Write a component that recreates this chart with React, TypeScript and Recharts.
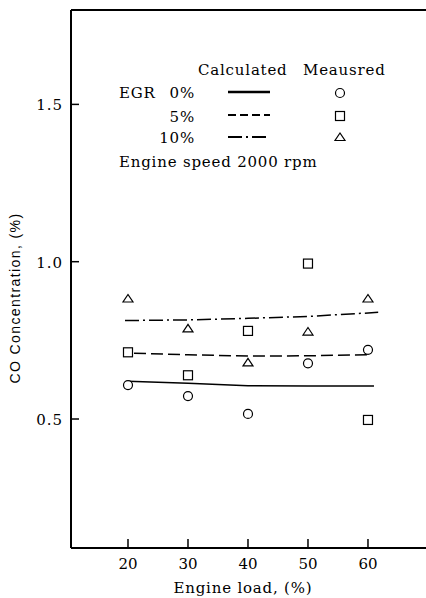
import { ComposedChart, Line, Scatter, XAxis, YAxis, ReferenceLine } from 'recharts';

// measured points (engine load %, CO %)
const loads = [20, 30, 40, 50, 60];
const measured0 = [0.608, 0.573, 0.516, 0.677, 0.72];
const measured5 = [0.712, 0.639, 0.78, 0.994, 0.497];
const measured10 = [0.883, 0.788, 0.68, 0.778, 0.883];

// calculated curves
const calcLoads0 = [20, 30, 40, 50, 61];
const calc0 = [0.62, 0.614, 0.606, 0.605, 0.605];
const calcLoads5 = [21, 30, 40, 50, 60];
const calc5 = [0.709, 0.704, 0.7, 0.701, 0.704];
const calcLoads10 = [19.5, 30, 40, 50, 61.7];
const calc10 = [0.813, 0.815, 0.82, 0.826, 0.839];

const xTicks = [20, 30, 40, 50, 60];
const yTicks = [0.5, 1.0, 1.5];

const toPoints = (xs: number[], ys: number[]) => xs.map((x, i) => ({ x, y: ys[i] }));

const SERIF = '"DejaVu Serif", serif';
const SANS = '"Liberation Sans", "DejaVu Sans", sans-serif';

const CircleMark = (props: any) => (
  <circle cx={props.cx} cy={props.cy} r={4.5} fill="#fff" stroke="#000" strokeWidth={1.2} />
);
const SquareMark = (props: any) => (
  <rect x={props.cx - 4.5} y={props.cy - 4.5} width={9} height={9} fill="#fff" stroke="#000" strokeWidth={1.2} />
);
const TriangleMark = (props: any) => (
  <path
    d={`M${props.cx - 5},${props.cy + 3.5} L${props.cx + 5},${props.cy + 3.5} L${props.cx},${props.cy - 4} Z`}
    fill="#fff"
    stroke="#000"
    strokeWidth={1.2}
  />
);

const XTick = (props: any) => (
  <g>
    <line x1={props.x} y1={props.y} x2={props.x} y2={props.y - 9} stroke="#000" strokeWidth={1.5} />
    <text x={props.x} y={props.y + 21} textAnchor="middle" style={{ fontFamily: SERIF, fontSize: 15 }} fill="#000">
      {props.payload.value}
    </text>
  </g>
);

const YTick = (props: any) => (
  <g>
    <line x1={props.x} y1={props.y} x2={props.x + 8} y2={props.y} stroke="#000" strokeWidth={1.5} />
    <text x={props.x - 8} y={props.y + 6} textAnchor="end" style={{ fontFamily: SERIF, fontSize: 15, letterSpacing: 1 }} fill="#000">
      {Number(props.payload.value).toFixed(1)}
    </text>
  </g>
);

export default function App() {
  return (
    <div style={{ position: 'relative', width: 426, height: 598 }}>
      <style>{`body{margin:0}`}</style>
      <ComposedChart width={426} height={598} margin={{ top: 10, right: 0, bottom: 0, left: 0 }}>
        <XAxis
          type="number"
          dataKey="x"
          domain={[10.5, 69.67]}
          ticks={xTicks}
          allowDataOverflow
          height={50}
          tickSize={0}
          tickMargin={0}
          tickLine={false}
          axisLine={{ stroke: '#000', strokeWidth: 2 }}
          tick={<XTick />}
        />
        <YAxis
          type="number"
          dataKey="y"
          domain={[0.09, 1.8]}
          ticks={yTicks}
          allowDataOverflow
          width={71}
          tickSize={0}
          tickMargin={0}
          tickLine={false}
          axisLine={{ stroke: '#000', strokeWidth: 2 }}
          tick={<YTick />}
        />
        <ReferenceLine y={1.8} stroke="#000" strokeWidth={2} ifOverflow="visible" />
        <Line data={toPoints(calcLoads0, calc0)} dataKey="y" stroke="#000" strokeWidth={1.5} dot={false} isAnimationActive={false} />
        <Line data={toPoints(calcLoads5, calc5)} dataKey="y" stroke="#000" strokeWidth={1.5} strokeDasharray="12 5" dot={false} isAnimationActive={false} />
        <Line data={toPoints(calcLoads10, calc10)} dataKey="y" stroke="#000" strokeWidth={1.5} strokeDasharray="14 4 2 4" dot={false} isAnimationActive={false} />
        <Scatter data={toPoints(loads, measured0)} shape={<CircleMark />} isAnimationActive={false} />
        <Scatter data={toPoints(loads, measured5)} shape={<SquareMark />} isAnimationActive={false} />
        <Scatter data={toPoints(loads, measured10)} shape={<TriangleMark />} isAnimationActive={false} />
      </ComposedChart>

      {/* legend + axis titles */}
      <svg width={426} height={598} style={{ position: 'absolute', left: 0, top: 0, pointerEvents: 'none' }}>
        <g style={{ fontFamily: SERIF, fontSize: 15, letterSpacing: 0.8 }} fill="#000">
          <text x={198} y={75}>Calculated</text>
          <text x={303} y={75}>Meausred</text>
          <text x={119} y={98}>EGR</text>
          <text x={195} y={98} textAnchor="end">0%</text>
          <text x={195} y={122} textAnchor="end">5%</text>
          <text x={195} y={143} textAnchor="end">10%</text>
          <text x={119} y={167}>Engine speed 2000 rpm</text>
          <text x={243} y={593} textAnchor="middle">Engine load, (%)</text>
        </g>
        <line x1={228} y1={92} x2={270} y2={92} stroke="#000" strokeWidth={2.5} />
        <line x1={228} y1={115} x2={270} y2={115} stroke="#000" strokeWidth={2} strokeDasharray="8 4" />
        <line x1={228} y1={137} x2={270} y2={137} stroke="#000" strokeWidth={2} strokeDasharray="14 4 2 4" />
        <CircleMark cx={340} cy={93} />
        <SquareMark cx={340} cy={116} />
        <TriangleMark cx={340} cy={137} />
        <text
          x={0}
          y={0}
          transform="translate(20,298) rotate(-90)"
          textAnchor="middle"
          style={{ fontFamily: SANS, fontSize: 14, letterSpacing: 1.4 }}
          fill="#000"
        >
          CO Concentration, (%)
        </text>
      </svg>
    </div>
  );
}
